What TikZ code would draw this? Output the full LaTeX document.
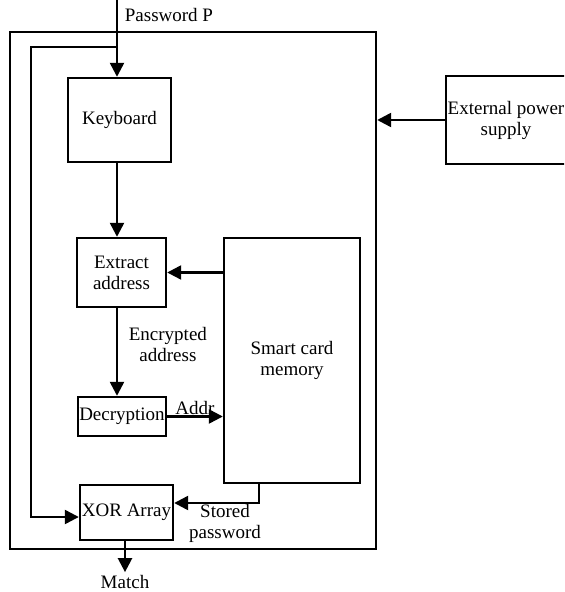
\documentclass[tikz,border=0pt]{standalone}
\usepackage{fontspec}
\setmainfont{Liberation Serif}
\usepackage{tikz}
\usetikzlibrary{positioning,arrows.meta,calc}

\begin{document}
\begin{tikzpicture}[x=0.5pt, y=-0.5pt, line width=1.2pt,
    font=\fontsize{9.5}{10.5}\selectfont,
    block/.style={draw, inner sep=0pt, align=center},
    arr/.style={-{Triangle[length=7pt,width=7pt]}}]
    \useasboundingbox (0,0) rectangle (564,592);
    \clip (0,0) rectangle (564,592);
    % card outline and the blocks inside it
    \node (card) [draw, minimum width=183pt, minimum height=258.5pt] at (193,290.5) {};
    \node (kbd) [block, minimum width=51.5pt, minimum height=42pt] at (119.5,120) {Keyboard};
    \node (extract) [block, minimum width=44.5pt, minimum height=34.5pt] at (121.5,272.5) {Extract\\address};
    \node (mem) [block, minimum width=68pt, minimum height=122.5pt] at (292,360.5) {Smart card\\memory};
    \node (decr) [block, minimum width=44pt, minimum height=19.5pt] at (122,416.5) {Decryption};
    \node (xor) [block, minimum width=46.5pt, minimum height=27.5pt] at (126.5,512.5) {XOR Array};
    \node (power) [block, minimum width=60pt, minimum height=44pt] at (506,120) {External power\\supply};
    \node (match) [inner sep=1pt] at (125,582) {Match};
    \coordinate (pin) at (117,0);
    \coordinate (split) at (117,47);
    \coordinate (loop) at (31,47);

    % password path and feedback to the XOR array
    \draw[arr] (pin) -- (pin |- kbd.north) node[pos=0.2, right] {Password P};
    \draw[arr] (split) -- (loop) |- ($(xor.west)+(0,4.5)$);
    \draw[arr] (kbd.south -| pin) -- (extract.north -| pin);
    \draw[arr] (extract.south -| pin) -- (decr.north -| pin)
        node[pos=0.42, right=2pt, align=center] {Encrypted\\address};
    \draw[arr] (mem.west |- extract.east) -- (extract.east);
    \draw[arr] (decr.east) -- (decr.east -| mem.west) node[midway, above, inner sep=0.5pt] {Addr};
    \draw[arr] ($(mem.south west)+(36,0)$) |- ($(xor.east)+(0,-9.5)$);
    \node[align=center] at (225,523) {Stored\\password};
    \draw[arr] (xor.south -| match) -- (match.north);
    \draw[arr] (power.west) -- (power.west -| card.east);
\end{tikzpicture}
\end{document}
